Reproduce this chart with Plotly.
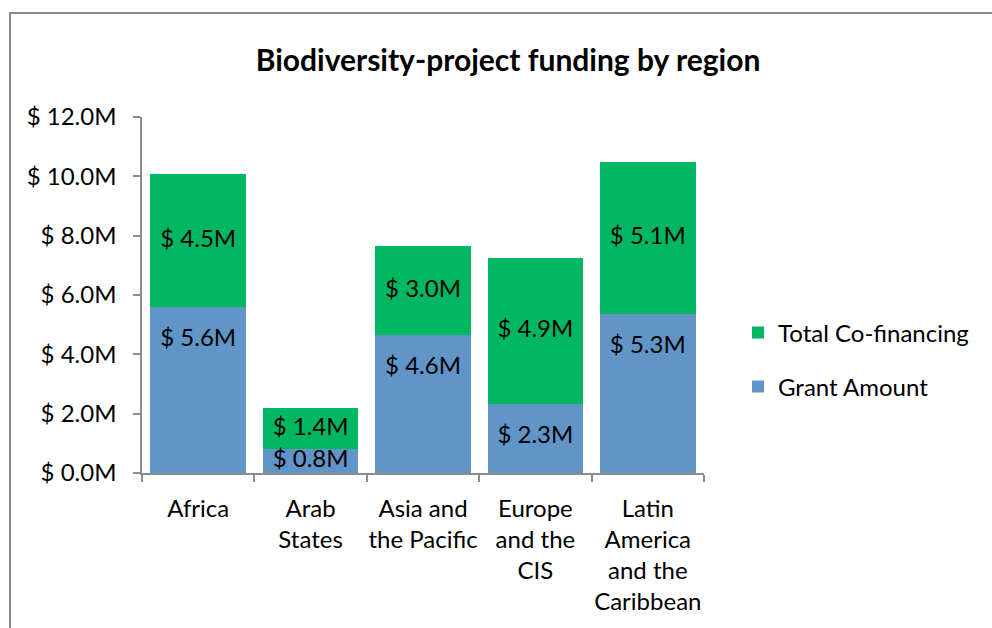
import plotly.graph_objects as go

regions = ["Africa", "Arab<br>States", "Asia and<br>the Pacific", "Europe<br>and the<br>CIS", "Latin<br>America<br>and the<br>Caribbean"]
grant = [5.58, 0.81, 4.64, 2.33, 5.35]
cofin = [4.50, 1.38, 3.00, 4.91, 5.14]
grant_labels = ["$ 5.6M", "$ 0.8M", "$ 4.6M", "$ 2.3M", "$ 5.3M"]
cofin_labels = ["$ 4.5M", "$ 1.4M", "$ 3.0M", "$ 4.9M", "$ 5.1M"]

FONT = "Lato, 'Open Sans', sans-serif"
GREEN = "#00B761"
BLUE = "#6195C8"
AX = "#8C8C8C"

fig = go.Figure()
fig.add_trace(go.Bar(x=regions, y=grant, name="Grant Amount", marker=dict(color=BLUE, line=dict(width=0)),
                     legend="legend2", hoverinfo="skip"))
fig.add_trace(go.Bar(x=regions, y=cofin, name="Total Co-financing", marker=dict(color=GREEN, line=dict(width=0)),
                     legend="legend", hoverinfo="skip"))

# data labels
g_lab_y = [max(g / 2, g - 1.1) for g in grant]
c_lab_y = [g + c / 2 for g, c in zip(grant, cofin)]
fig.add_trace(go.Scatter(x=regions, y=g_lab_y, mode="text", text=grant_labels, showlegend=False, cliponaxis=False,
                         textfont=dict(family=FONT, size=24, color="black"), hoverinfo="skip"))
fig.add_trace(go.Scatter(x=regions, y=c_lab_y, mode="text", text=cofin_labels, showlegend=False, cliponaxis=False,
                         textfont=dict(family=FONT, size=24, color="black"), hoverinfo="skip"))

L, R, T, B = 142, 288, 117, 155
W, H = 992 - L - R, 628 - T - B

fig.update_layout(
    width=992, height=628,
    margin=dict(l=L, r=R, t=T, b=B, autoexpand=False),
    paper_bgcolor="white", plot_bgcolor="white",
    barmode="stack", bargap=0.15,
    font=dict(family=FONT, size=24, color="black"),
    title=dict(text="<b>Biodiversity-project funding by region</b>", x=508 / 992, xanchor="center",
               y=1 - 60 / 628, yanchor="middle", font=dict(family=FONT, size=30, color="black")),
    showlegend=True,
    legend=dict(x=(738 - L) / W, xanchor="left", y=(473 - 333) / H, yanchor="middle",
                font=dict(family=FONT, size=24, color="black"), bgcolor="rgba(0,0,0,0)"),
    legend2=dict(x=(738 - L) / W, xanchor="left", y=(473 - 387) / H, yanchor="middle",
                 font=dict(family=FONT, size=24, color="black"), bgcolor="rgba(0,0,0,0)"),
    xaxis=dict(showline=True, linecolor=AX, linewidth=1.5, ticks="outside", tickson="boundaries",
               ticklen=7, tickcolor=AX, tickwidth=1.5, showgrid=False, tickangle=0, ticklabelstandoff=13,
               tickfont=dict(family=FONT, size=24, color="black")),
    yaxis=dict(range=[0, 12], dtick=2, showline=True, linecolor=AX, linewidth=1.5, ticks="outside",
               ticklen=7, tickcolor=AX, tickwidth=1.5, showgrid=False, zeroline=False,
               tickprefix="$ ", ticksuffix="M", tickformat=".1f", ticklabelstandoff=12,
               tickfont=dict(family=FONT, size=24, color="black")),
    shapes=[dict(type="rect", xref="paper", yref="paper",
                 x0=(10 - L) / W, x1=(1010 - L) / W, y0=(473 - 650) / H, y1=(473 - 13) / H,
                 line=dict(color=AX, width=2), fillcolor="rgba(0,0,0,0)", layer="below")],
)

fig.write_html("out.html", config={"displayModeBar": False},
               post_script="document.body.style.margin='0';document.body.style.overflow='hidden';")
